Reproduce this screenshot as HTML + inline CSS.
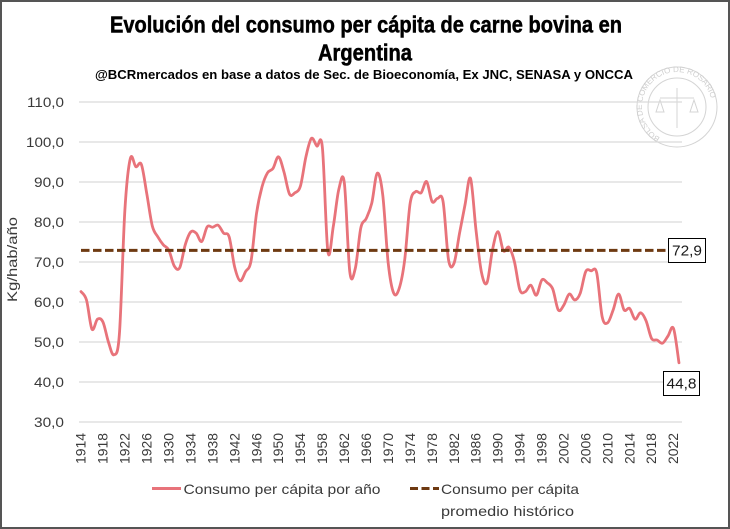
<!DOCTYPE html>
<html><head><meta charset="utf-8">
<style>
html,body{margin:0;padding:0;background:#fff;}
svg{display:block;}
text{font-family:"Liberation Sans",sans-serif;}
.tl{font-family:"Liberation Sans Narrow","Liberation Sans",sans-serif;font-weight:bold;fill:#000;}
.ax{font-size:13.5px;fill:#3a3a3a;}
.lg{font-size:14px;fill:#3a3a3a;}
</style></head>
<body>
<svg width="730" height="529" viewBox="0 0 730 529" xmlns="http://www.w3.org/2000/svg">
<rect x="0" y="0" width="730" height="529" fill="#fff"/>
<rect x="1" y="1" width="728" height="527" fill="none" stroke="#555" stroke-width="2"/>

<!-- watermark seal -->
<g fill="none" stroke="#d4d4d4" stroke-width="1">
<circle cx="677" cy="107" r="40"/>
<circle cx="677" cy="107" r="29"/>
<line x1="677" y1="88" x2="677" y2="128"/>
<line x1="660" y1="98" x2="694" y2="98"/>
<path d="M656 112 l4 -12 l4 12 z M690 112 l4 -12 l4 12 z"/>
</g>
<defs><path id="sealp" d="M677,142 a35,35 0 1,1 0.1,0"/></defs>
<text font-size="8" fill="#cfcfcf"><textPath href="#sealp" startOffset="8%">BOLSA DE COMERCIO DE ROSARIO</textPath></text>

<!-- titles -->
<text class="tl" x="110" y="32.5" font-size="23" textLength="512" lengthAdjust="spacingAndGlyphs" stroke="#000" stroke-width="0.5">Evolución del consumo per cápita de carne bovina en</text>
<text class="tl" x="318" y="60.5" font-size="23" textLength="94" lengthAdjust="spacingAndGlyphs" stroke="#000" stroke-width="0.5">Argentina</text>
<text class="tl" x="95" y="79" font-size="12.5" textLength="538" lengthAdjust="spacingAndGlyphs">@BCRmercados  en base a datos de Sec. de Bioeconomía,  Ex JNC, SENASA y ONCCA</text>

<!-- gridlines -->
<g stroke="#d9d9d9" stroke-width="1.2">
<line x1="79" y1="102" x2="682" y2="102"/>
<line x1="79" y1="142" x2="682" y2="142"/>
<line x1="79" y1="182" x2="682" y2="182"/>
<line x1="79" y1="222" x2="682" y2="222"/>
<line x1="79" y1="262" x2="682" y2="262"/>
<line x1="79" y1="302" x2="682" y2="302"/>
<line x1="79" y1="342" x2="682" y2="342"/>
<line x1="79" y1="382" x2="682" y2="382"/>
<line x1="79" y1="422" x2="682" y2="422"/>
</g>

<!-- y labels -->
<g class="ax" text-anchor="end">
<text x="64" y="107" textLength="37" lengthAdjust="spacingAndGlyphs">110,0</text>
<text x="64" y="147" textLength="38" lengthAdjust="spacingAndGlyphs">100,0</text>
<text x="64" y="187" textLength="30" lengthAdjust="spacingAndGlyphs">90,0</text>
<text x="64" y="227" textLength="30" lengthAdjust="spacingAndGlyphs">80,0</text>
<text x="64" y="267" textLength="30" lengthAdjust="spacingAndGlyphs">70,0</text>
<text x="64" y="307" textLength="30" lengthAdjust="spacingAndGlyphs">60,0</text>
<text x="64" y="347" textLength="30" lengthAdjust="spacingAndGlyphs">50,0</text>
<text x="64" y="387" textLength="30" lengthAdjust="spacingAndGlyphs">40,0</text>
<text x="64" y="427" textLength="30" lengthAdjust="spacingAndGlyphs">30,0</text>
</g>
<text class="ax" font-size="14" transform="translate(17,259.5) rotate(-90)" text-anchor="middle" textLength="85" lengthAdjust="spacingAndGlyphs">Kg/hab/año</text>

<!-- x labels -->
<g class="ax" text-anchor="end">
<text transform="translate(85.7,433) rotate(-90)" textLength="31" lengthAdjust="spacingAndGlyphs">1914</text>
<text transform="translate(107.6,433) rotate(-90)" textLength="31" lengthAdjust="spacingAndGlyphs">1918</text>
<text transform="translate(129.6,433) rotate(-90)" textLength="31" lengthAdjust="spacingAndGlyphs">1922</text>
<text transform="translate(151.5,433) rotate(-90)" textLength="31" lengthAdjust="spacingAndGlyphs">1926</text>
<text transform="translate(173.5,433) rotate(-90)" textLength="31" lengthAdjust="spacingAndGlyphs">1930</text>
<text transform="translate(195.4,433) rotate(-90)" textLength="31" lengthAdjust="spacingAndGlyphs">1934</text>
<text transform="translate(217.4,433) rotate(-90)" textLength="31" lengthAdjust="spacingAndGlyphs">1938</text>
<text transform="translate(239.3,433) rotate(-90)" textLength="31" lengthAdjust="spacingAndGlyphs">1942</text>
<text transform="translate(261.3,433) rotate(-90)" textLength="31" lengthAdjust="spacingAndGlyphs">1946</text>
<text transform="translate(283.2,433) rotate(-90)" textLength="31" lengthAdjust="spacingAndGlyphs">1950</text>
<text transform="translate(305.1,433) rotate(-90)" textLength="31" lengthAdjust="spacingAndGlyphs">1954</text>
<text transform="translate(327.1,433) rotate(-90)" textLength="31" lengthAdjust="spacingAndGlyphs">1958</text>
<text transform="translate(349.0,433) rotate(-90)" textLength="31" lengthAdjust="spacingAndGlyphs">1962</text>
<text transform="translate(371.0,433) rotate(-90)" textLength="31" lengthAdjust="spacingAndGlyphs">1966</text>
<text transform="translate(392.9,433) rotate(-90)" textLength="31" lengthAdjust="spacingAndGlyphs">1970</text>
<text transform="translate(414.9,433) rotate(-90)" textLength="31" lengthAdjust="spacingAndGlyphs">1974</text>
<text transform="translate(436.8,433) rotate(-90)" textLength="31" lengthAdjust="spacingAndGlyphs">1978</text>
<text transform="translate(458.8,433) rotate(-90)" textLength="31" lengthAdjust="spacingAndGlyphs">1982</text>
<text transform="translate(480.7,433) rotate(-90)" textLength="31" lengthAdjust="spacingAndGlyphs">1986</text>
<text transform="translate(502.6,433) rotate(-90)" textLength="31" lengthAdjust="spacingAndGlyphs">1990</text>
<text transform="translate(524.6,433) rotate(-90)" textLength="31" lengthAdjust="spacingAndGlyphs">1994</text>
<text transform="translate(546.5,433) rotate(-90)" textLength="31" lengthAdjust="spacingAndGlyphs">1998</text>
<text transform="translate(568.5,433) rotate(-90)" textLength="31" lengthAdjust="spacingAndGlyphs">2002</text>
<text transform="translate(590.4,433) rotate(-90)" textLength="31" lengthAdjust="spacingAndGlyphs">2006</text>
<text transform="translate(612.4,433) rotate(-90)" textLength="31" lengthAdjust="spacingAndGlyphs">2010</text>
<text transform="translate(634.3,433) rotate(-90)" textLength="31" lengthAdjust="spacingAndGlyphs">2014</text>
<text transform="translate(656.2,433) rotate(-90)" textLength="31" lengthAdjust="spacingAndGlyphs">2018</text>
<text transform="translate(678.2,433) rotate(-90)" textLength="31" lengthAdjust="spacingAndGlyphs">2022</text>
</g>

<!-- series -->
<g transform="translate(81,542) scale(5.486,-4)">
<polyline id="serie" fill="none" stroke="#E8737A" stroke-width="2.8" stroke-linejoin="round" stroke-linecap="round" vector-effect="non-scaling-stroke"
points="0,62.6 1,60.5 2,53.2 3,55.7 4,55.0 5,50.0 6,46.8 7,52.0 8,83.0 9,95.9 10,93.8 11,94.4 12,87.0 13,79.0 14,76.3 15,74.3 16,73.0 17,69.0 18,68.6 19,74.3 20,77.5 21,77.2 22,75.1 23,78.8 24,78.7 25,79.2 26,77.2 27,76.3 28,68.8 29,65.3 30,67.6 31,70.3 32,82.2 33,88.8 34,92.3 35,93.4 36,96.3 37,92.5 38,87.0 39,87.3 40,89.0 41,96.3 42,100.9 43,99.0 44,98.6 45,72.6 46,79.0 47,88.2 48,89.8 49,67.5 50,68.4 51,78.5 52,80.9 53,84.7 54,92.2 55,86.8 56,69.7 57,62.2 58,63.4 59,70.5 60,84.7 61,87.6 62,87.3 63,90.1 64,85.1 65,85.9 66,85.1 67,70.5 68,69.7 69,77.2 70,84.3 71,90.9 72,78.0 73,67.4 74,64.8 75,73.0 76,77.6 77,72.8 78,73.7 79,70.1 80,63.0 81,62.6 82,64.2 83,61.7 84,65.5 85,64.8 86,63.2 87,58.0 88,59.2 89,62.0 90,60.5 91,62.2 92,67.6 93,67.8 94,67.3 95,56.3 96,54.8 97,58.0 98,62.0 99,58.0 100,58.4 101,55.7 102,57.3 103,55.3 104,50.9 105,50.5 106,49.7 107,51.5 108,53.4 109,44.8"/>
</g>

<!-- average line -->
<line x1="81" y1="250.4" x2="679" y2="250.4" stroke="#6e3a12" stroke-width="3" stroke-dasharray="8.5,3.5"/>

<!-- value labels -->
<rect x="668.5" y="238.5" width="37" height="24" fill="#fff" stroke="#000" stroke-width="1"/>
<text x="687" y="255.5" font-size="15" fill="#1a1a1a" text-anchor="middle" textLength="30" lengthAdjust="spacingAndGlyphs">72,9</text>
<rect x="663.5" y="371.5" width="36" height="24" fill="#fff" stroke="#000" stroke-width="1"/>
<text x="681.5" y="388.5" font-size="15" fill="#1a1a1a" text-anchor="middle" textLength="30" lengthAdjust="spacingAndGlyphs">44,8</text>

<!-- legend -->
<line x1="152" y1="488.5" x2="181" y2="488.5" stroke="#E8737A" stroke-width="3"/>
<text class="lg" x="183.5" y="494" textLength="197" lengthAdjust="spacingAndGlyphs">Consumo per cápita por año</text>
<line x1="410" y1="488.5" x2="439" y2="488.5" stroke="#6e3a12" stroke-width="3" stroke-dasharray="8,3.5"/>
<text class="lg" x="441" y="494" textLength="138" lengthAdjust="spacingAndGlyphs">Consumo per cápita</text>
<text class="lg" x="441" y="516" textLength="133" lengthAdjust="spacingAndGlyphs">promedio histórico</text>
</svg>
<script>
(function(){
  var pl=document.getElementById('serie');
  if(!pl) return;
  var pts=pl.getAttribute('points').trim().split(/\s+/).map(function(s){var a=s.split(',');return [parseFloat(a[0]),parseFloat(a[1])];});
  var n=pts.length, d='M'+pts[0][0]+','+pts[0][1];
  for(var i=0;i<n-1;i++){
    var p0=pts[i>0?i-1:i],p1=pts[i],p2=pts[i+1],p3=pts[i+2<n?i+2:i+1];
    var c1x=p1[0]+(p2[0]-p0[0])/6,c1y=p1[1]+(p2[1]-p0[1])/6;
    var c2x=p2[0]-(p3[0]-p1[0])/6,c2y=p2[1]-(p3[1]-p1[1])/6;
    d+=' C'+c1x.toFixed(3)+','+c1y.toFixed(3)+' '+c2x.toFixed(3)+','+c2y.toFixed(3)+' '+p2[0]+','+p2[1];
  }
  var ns='http://www.w3.org/2000/svg';
  var path=document.createElementNS(ns,'path');
  ['fill','stroke','stroke-width','stroke-linejoin','stroke-linecap','vector-effect'].forEach(function(a){path.setAttribute(a,pl.getAttribute(a));});
  path.setAttribute('d',d);
  pl.parentNode.replaceChild(path,pl);
})();
</script>
</body></html>
